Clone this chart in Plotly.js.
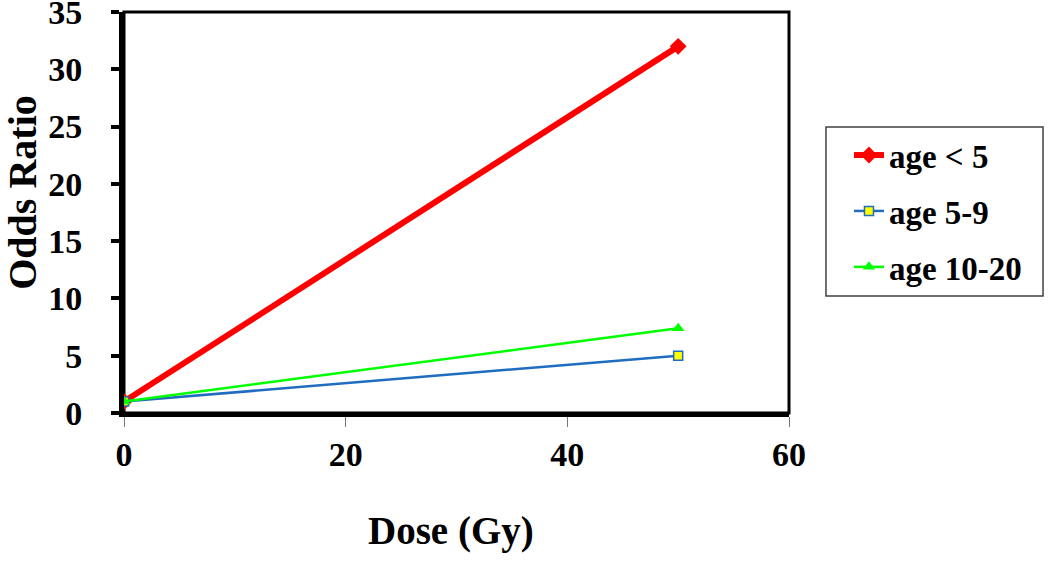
<!DOCTYPE html>
<html>
<head>
<meta charset="utf-8">
<script src="https://cdn.plot.ly/plotly-3.0.1.min.js"></script>
<style>
html,body{margin:0;padding:0;background:#fff;}
#chart{width:1050px;height:563px;}
</style>
</head>
<body>
<div id="chart"></div>
<script>
const dose = [0, 50];
const orAgeUnder5 = [1, 32];
const orAge5to9 = [1, 5];
const orAge10to20 = [1, 7.4];
const seriesNames = ["age < 5", "age 5-9", "age 10-20"];
const xTicks = [0, 20, 40, 60];
const yTicks = [0, 5, 10, 15, 20, 25, 30, 35];
const xTitle = "Dose (Gy)";
const yTitle = "Odds Ratio";

const FONT = "'Liberation Serif', 'Times New Roman', serif";
const NB = "\u00a0";

const traces = [
  {
    x: dose, y: orAgeUnder5, name: seriesNames[0], mode: "lines+markers",
    legendgroup: "a",
    line: {color: "#ff0000", width: 6},
    marker: {symbol: "diamond", size: 13, color: "#ff0000"}
  },
  {
    x: dose, y: orAge5to9, name: seriesNames[1], mode: "lines+markers",
    legendgroup: "b",
    line: {color: "#1f6cc0", width: 2.5},
    marker: {symbol: "square", size: 9, color: "#ffff00", line: {color: "#1f6cc0", width: 1.5}}
  },
  {
    x: dose, y: orAge10to20, name: seriesNames[2], mode: "lines+markers",
    legendgroup: "c",
    line: {color: "#00ff00", width: 2.5},
    marker: {symbol: "triangle-up", size: 11, color: "#00ff00"}
  }
];

const layout = {
  width: 1050, height: 563,
  margin: {l: 124, r: 261, t: 12, b: 150},
  paper_bgcolor: "#ffffff", plot_bgcolor: "#ffffff",
  font: {family: FONT, color: "#000000"},
  showlegend: true,
  legend: {
    x: 1.0556, xanchor: "left", y: 0.713, yanchor: "top",
    borderwidth: 0, bgcolor: "rgba(0,0,0,0)",
    font: {family: FONT, size: 33, weight: "bold", color: "#000"},
    indentation: 23,
    traceorder: "grouped", tracegroupgap: 10
  },
  xaxis: {
    range: [0, 60], tickvals: xTicks, ticktext: xTicks.map(String),
    showgrid: false, zeroline: false,
    showline: true, linecolor: "#000", linewidth: 4,
    ticks: "outside", ticklen: 10, tickwidth: 1, tickcolor: "#777",
    ticklabelstandoff: -2,
    tickfont: {family: FONT, size: 34, weight: "bold", color: "#000"},
    fixedrange: true
  },
  yaxis: {
    range: [0, 35], tickvals: yTicks, ticktext: yTicks.map(String),
    showgrid: false, zeroline: false,
    showline: true, linecolor: "#000", linewidth: 5,
    ticks: "outside", ticklen: 8, tickwidth: 4, tickcolor: "#000",
    ticklabelstandoff: 22, ticklabeloverflow: "allow",
    tickfont: {family: FONT, size: 34, weight: "bold", color: "#000"},
    title: {text: "<b>" + NB + NB + NB + NB + yTitle + "</b>", font: {family: FONT, size: 40, color: "#000"}, standoff: 12},
    fixedrange: true
  },
  annotations: [
    {text: "<b>" + xTitle + "</b>", xref: "paper", yref: "paper", x: 0.4917, y: -0.294,
     xanchor: "center", yanchor: "middle", showarrow: false,
     font: {family: FONT, size: 39, color: "#000"}}
  ],
  shapes: [
    {type: "rect", xref: "paper", yref: "paper", x0: 0, x1: 1, y0: 0, y1: 1,
     line: {color: "#000", width: 3}, layer: "below"},
    {type: "rect", xref: "paper", yref: "paper", x0: 1.0556, x1: 1.382, y0: 0.2918, y1: 0.713,
     line: {color: "#404040", width: 1.5}, fillcolor: "rgba(0,0,0,0)", layer: "above"}
  ]
};

Plotly.newPlot("chart", traces, layout, {displayModeBar: false, staticPlot: true});
</script>
</body>
</html>
